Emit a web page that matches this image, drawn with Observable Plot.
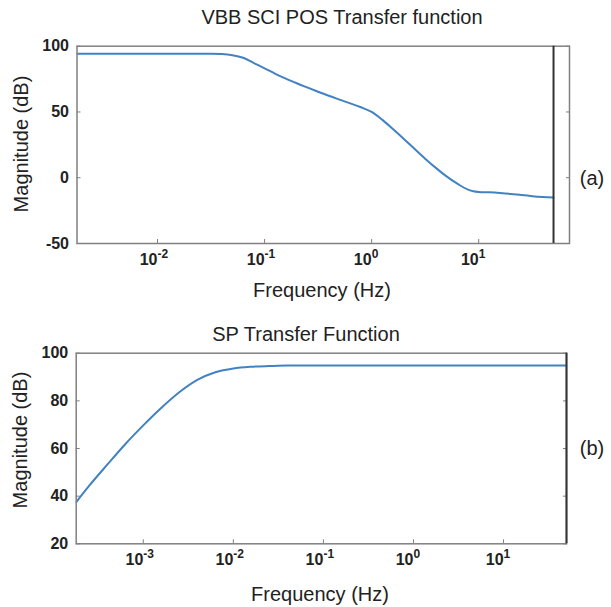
<!DOCTYPE html>
<html><head><meta charset="utf-8">
<script src="https://cdn.jsdelivr.net/npm/d3@7"></script>
<script src="https://cdn.jsdelivr.net/npm/@observablehq/plot@0.6"></script>
<style>
body{margin:0;background:#fff;}
#wrap{position:relative;width:611px;height:607px;font-family:"Liberation Sans",Arial,sans-serif;color:#222;}
.lbl{position:absolute;white-space:nowrap;line-height:1;transform:translate(-50%,-50%);font-size:20px;}
.rot{transform:translate(-50%,-50%) rotate(-90deg);}
#wrap svg{position:absolute;left:0;}
</style></head><body><div id="wrap"></div>
<script>
// (a) VBB SCI POS transfer function
const vbbFreq = [0.00177, 0.0316, 0.0398, 0.0501, 0.0631, 0.0794, 0.1, 0.126, 0.158, 0.2, 0.251, 0.316, 0.398, 0.501, 0.631, 0.794, 1, 1.26, 1.58, 2.0, 2.51, 3.16, 3.98, 5.01, 6.31, 7.94, 8.91, 10, 12.6, 15.8, 20, 25.1, 31.6, 39.8, 50];
const vbbMag  = [94.2, 94.2, 94.0, 93.2, 91.2, 87.2, 83.2, 79.0, 75.3, 71.8, 68.6, 65.4, 62.3, 59.4, 56.5, 53.6, 50.0, 44.0, 37.0, 29.5, 22.0, 14.5, 7.5, 1.0, -4.5, -9.0, -10.3, -10.8, -11.1, -11.6, -12.3, -13.2, -14.0, -14.6, -15.0];
const vbbYTicks = [-50, 0, 50, 100];
const vbbXTicks = [0.01, 0.1, 1, 10];
const vbbXExp = ["-2", "-1", "0", "1"];

// (b) SP transfer function
const spFreq = [0.00018, 0.00025, 0.0004, 0.00063, 0.001, 0.00158, 0.00251, 0.00398, 0.00631, 0.01, 0.0158, 0.0251, 0.0398, 0.1, 1, 10, 50];
const spMag  = [37.5, 44.3, 53.3, 61.8, 69.7, 77.0, 83.6, 88.8, 92.0, 93.6, 94.3, 94.6, 94.8, 94.8, 94.8, 94.8, 94.8];
const spYTicks = [20, 40, 60, 80, 100];
const spXTicks = [0.001, 0.01, 0.1, 1, 10];
const spXExp = ["-3", "-2", "-1", "0", "1"];

const nyquist = [50];

const wrap = document.getElementById("wrap");
const FONT = '"Liberation Sans", Arial, sans-serif';
const frameColor = "#808080";
const lineColor = "#4282c2";

function panel({freq, mag, yTicks, xTicks, xExp, xDomain, yDomain, height, margins, top, labDy, expDy}) {
  const data = freq.map((f, i) => ({f, m: mag[i]}));
  const svg = Plot.plot({
    width: 611, height,
    marginLeft: margins[0], marginRight: margins[1], marginTop: margins[2], marginBottom: margins[3],
    x: {type: "log", domain: xDomain},
    y: {domain: yDomain},
    style: {fontFamily: FONT, fontSize: "16px", color: "#222", background: "transparent", overflow: "visible"},
    marks: [
      Plot.axisY(yTicks, {anchor: "left", tickSize: 0, tickPadding: 8, tickFormat: d => String(d), fontSize: 16, fontWeight: "bold", label: null}),
      Plot.axisY(yTicks, {anchor: "left", tickSize: -4, tickFormat: () => "", label: null, stroke: frameColor}),
      Plot.axisY(yTicks, {anchor: "right", tickSize: -4, tickFormat: () => "", label: null, stroke: frameColor}),
      Plot.axisX(xTicks, {anchor: "bottom", tickSize: -4, tickFormat: () => "", label: null, stroke: frameColor}),
      Plot.text(xTicks, {x: d => d, text: () => "10", frameAnchor: "bottom", dy: labDy, textAnchor: "end", fontSize: 16, fontWeight: "bold", fill: "#222"}),
      Plot.text(xTicks, {x: d => d, text: (d, i) => xExp[i], frameAnchor: "bottom", dy: expDy, textAnchor: "start", fontSize: 12, fontWeight: "bold", fill: "#222"}),
      Plot.line(data, {x: "f", y: "m", curve: "monotone-x", stroke: lineColor, strokeWidth: 2, clip: true}),
      Plot.frame({stroke: frameColor, strokeWidth: 1.5}),
      Plot.ruleX(nyquist, {stroke: "#333", strokeWidth: 2})
    ]
  });
  svg.style.top = top + "px";
  wrap.appendChild(svg);
}

panel({freq: vbbFreq, mag: vbbMag, yTicks: vbbYTicks, xTicks: vbbXTicks, xExp: vbbXExp,
  xDomain: [0.00177, 70.5], yDomain: [-50, 100], height: 310, margins: [76.5, 42, 45.7, 67], top: 0, labDy: 21, expDy: 14});
panel({freq: spFreq, mag: spMag, yTicks: spYTicks, xTicks: spXTicks, xExp: spXExp,
  xDomain: [0.00018, 50], yDomain: [20, 100], height: 297, margins: [75.7, 45, 42.7, 63.7], top: 310, labDy: 21, expDy: 14});

function label(text, x, y, cls) {
  const d = document.createElement("div");
  d.className = "lbl" + (cls ? " " + cls : "");
  d.textContent = text;
  d.style.left = x + "px";
  d.style.top = y + "px";
  wrap.appendChild(d);
}
label("VBB SCI POS Transfer function", 342, 17);
label("Magnitude (dB)", 21, 144, "rot");
label("Frequency (Hz)", 322, 290);
label("(a)", 592, 178);
label("SP Transfer Function", 306, 334);
label("Magnitude (dB)", 20, 440, "rot");
label("Frequency (Hz)", 320, 594);
label("(b)", 592, 448);
</script></body></html>
